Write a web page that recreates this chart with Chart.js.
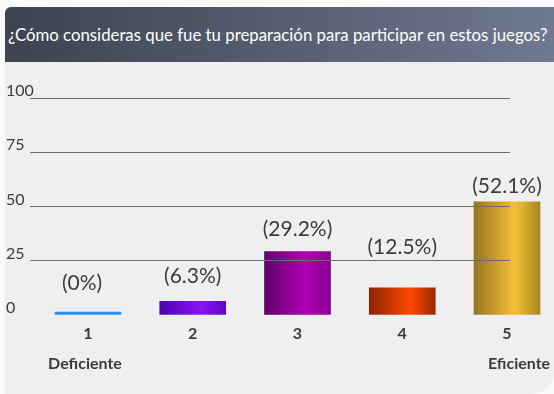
<!DOCTYPE html>
<html lang="es">
<head>
<meta charset="utf-8">
<title>Preparación para los juegos</title>
<script src="https://cdn.jsdelivr.net/npm/chart.js@4.4.0/dist/chart.umd.min.js"></script>
<style>
  html, body { margin: 0; padding: 0; background: #fafafa; }
  #panel {
    position: absolute; left: 5px; top: 7px; width: 549px; height: 387px;
    background: #efefef; border-radius: 6px 0 22px 0;
  }
  #banner {
    position: absolute; left: 0; top: 0; width: 549px; height: 55px;
    border-radius: 6px 0 0 0; box-sizing: border-box; padding-left: 3px;
    background: linear-gradient(to right, #3d434f, #6f7991);
    color: #fff; font-family: Lato, sans-serif; font-size: 16.8px;
    line-height: 55px; white-space: nowrap;
  }
  #grafico { position: absolute; left: 0; top: 0; }
</style>
</head>
<body>
<div id="panel">
  <div id="banner">¿Cómo consideras que fue tu preparación para participar en estos juegos?</div>
</div>
<canvas id="grafico" width="554" height="394"></canvas>
<script>
const categorias = [1, 2, 3, 4, 5];
const porcentajes = [0, 6.3, 29.2, 12.5, 52.1];
const ticksY = [0, 25, 50, 75, 100];
const extremos = ['Deficiente', 'Eficiente'];

// oscuro, brillante, borde derecho
const coloresBarra = [
  ['#2b8ff0', '#2b8ff0', '#2b8ff0'],
  ['#4a06a8', '#8a12fa', '#5c0ab8'],
  ['#5e0068', '#b000b4', '#880090'],
  ['#8a2400', '#ff4800', '#9a2800'],
  ['#967520', '#f6c038', '#a88620']
];

// separación (px) entre la barra y su etiqueta
const separacionEtiqueta = [29, 25, 22, 41, 16];

const ANCHO_BARRA = 66;
const colorTexto = '#3c3c3c';

function colorBarra(context) {
  const chart = context.chart;
  const i = context.dataIndex;
  const colores = coloresBarra[i];
  if (!chart.chartArea || !chart.scales.x) {
    return colores[1];
  }
  const cx = chart.scales.x.getPixelForValue(categorias[i]);
  const grad = chart.ctx.createLinearGradient(cx - ANCHO_BARRA / 2, 0, cx + ANCHO_BARRA / 2, 0);
  grad.addColorStop(0, colores[0]);
  grad.addColorStop(0.62, colores[1]);
  grad.addColorStop(1, colores[2]);
  return grad;
}

// etiquetas de porcentaje y extremos de la escala
const etiquetasPlugin = {
  id: 'etiquetas',
  afterDraw(chart) {
    const ctx = chart.ctx;
    const meta = chart.getDatasetMeta(0);
    ctx.save();
    ctx.fillStyle = colorTexto;
    ctx.textAlign = 'center';
    ctx.textBaseline = 'middle';
    ctx.font = '21px Lato, sans-serif';
    meta.data.forEach((bar, i) => {
      const dx = porcentajes[i] === 0 ? -6 : 0;
      ctx.fillText('(' + porcentajes[i] + '%)', bar.x + dx, bar.y - separacionEtiqueta[i]);
    });

    const x = chart.scales.x;
    ctx.font = 'bold 16px Lato, sans-serif';
    ctx.fillText(extremos[0], x.getPixelForValue(categorias[0]) - 3, 364);
    ctx.fillText(extremos[1], x.getPixelForValue(categorias[categorias.length - 1]) + 12, 364);
    ctx.restore();
  }
};

const ctx = document.getElementById('grafico').getContext('2d');

new Chart(ctx, {
  type: 'bar',
  data: {
    datasets: [{
      data: categorias.map((c, i) => ({ x: c, y: porcentajes[i] })),
      backgroundColor: colorBarra,
      barThickness: ANCHO_BARRA,
      minBarLength: 3,
      borderWidth: 0,
      clip: false
    }]
  },
  options: {
    responsive: false,
    animation: false,
    layout: {
      padding: { left: 6, right: 44, top: 98, bottom: 0 }
    },
    plugins: {
      legend: { display: false },
      tooltip: { enabled: false }
    },
    scales: {
      x: {
        type: 'linear',
        offset: false,
        min: 0.4463,
        max: 5.0286,
        afterBuildTicks: (scale) => {
          scale.ticks = categorias.map(v => ({ value: v }));
        },
        afterFit: (scale) => {
          scale.height = 79;
        },
        grid: { display: false, drawTicks: false },
        border: { display: false },
        ticks: {
          padding: 9,
          color: colorTexto,
          font: { family: 'Lato', size: 16, weight: 'bold' }
        }
      },
      y: {
        min: 0,
        max: 100,
        afterBuildTicks: (scale) => {
          scale.ticks = ticksY.map(v => ({ value: v }));
        },
        afterFit: (scale) => {
          scale.width = 24;
        },
        grid: {
          z: 1,
          drawTicks: false,
          lineWidth: 1,
          color: (c) => (c.tick && c.tick.value === 0 ? 'rgba(0,0,0,0)' : '#6a6a6a')
        },
        border: { display: false },
        ticks: {
          // mirror evita el recorte del "100" que pasa sobre la línea
          mirror: true,
          padding: -24,
          labelOffset: -7,
          color: colorTexto,
          font: { family: 'Lato', size: 16 }
        }
      }
    }
  },
  plugins: [etiquetasPlugin]
});
</script>
</body>
</html>
